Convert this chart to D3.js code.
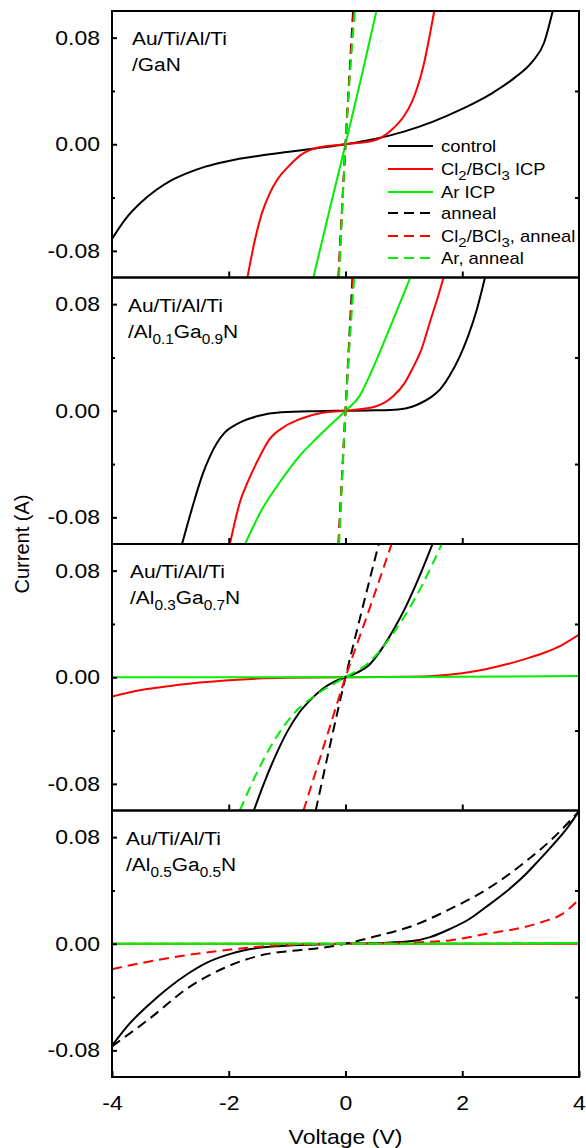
<!DOCTYPE html>
<html>
<head>
<meta charset="utf-8">
<script src="https://cdn.jsdelivr.net/npm/d3@7"></script>
<style>
  html, body { margin: 0; padding: 0; background: #fff; }
  svg { display: block; }
  text { font-family: "Liberation Sans", Arial, Helvetica, sans-serif; fill: #000; }
</style>
</head>
<body>
<svg id="chart" width="586" height="1148"></svg>
<script>
// ---------------- DATA ----------------
const xTicks = [-4, -2, 0, 2, 4];
const xInnerTicks = [-2, 0, 2];
const yTicks = [-0.08, 0.00, 0.08];
const yMinorTicks = [-0.04, 0.04];
const seriesNames = ["control", "Cl2/BCl3 ICP", "Ar ICP", "anneal", "Cl2/BCl3, anneal", "Ar, anneal"];
const seriesColors = ["#000000", "#ff0000", "#00ee00", "#000000", "#ff0000", "#00ee00"];
const seriesDashed = [false, false, false, true, true, true];

// panel substrate labels: [text, subscript, text, subscript, text]
const panelSubstrates = [
  ["GaN"],
  ["Al", "0.1", "Ga", "0.9", "N"],
  ["Al", "0.3", "Ga", "0.7", "N"],
  ["Al", "0.5", "Ga", "0.5", "N"]
];

// Panel 1: GaN  (voltage V, current A)
const gan_control = [[-4,-0.071],[-3.75,-0.055],[-3.5,-0.0435],[-3.25,-0.0345],[-3,-0.0275],[-2.7,-0.0215],[-2.4,-0.0168],[-2,-0.0125],[-1.5,-0.0088],[-1,-0.0058],[-0.5,-0.003],[0,0],[0.5,0.004],[1.0,0.0095],[1.5,0.017],[2.0,0.0265],[2.5,0.038],[2.9,0.05],[3.2,0.062],[3.4,0.076],[3.55,0.1]];
const gan_cl = [[-1.68,-0.1],[-1.55,-0.0715],[-1.43,-0.0515],[-1.3,-0.037],[-1.17,-0.0266],[-0.98,-0.0168],[-0.78,-0.0085],[-0.47,-0.0025],[0,0],[0.5,0.003],[0.82,0.012],[1.0,0.021],[1.14,0.032],[1.33,0.058],[1.52,0.1]];
const gan_ar = [[-0.55,-0.1],[-0.3,-0.054],[0,0],[0.28,0.052],[0.53,0.1]];
const gan_anneal = [[-0.12,-0.1],[0,0],[0.13,0.1]];
const gan_cl_anneal = [[-0.12,-0.1],[0,0],[0.14,0.1]];
const gan_ar_anneal = [[-0.11,-0.1],[0,0],[0.16,0.1]];

// Panel 2: Al0.1Ga0.9N
const al1_control = [[-2.8,-0.1],[-2.58,-0.066],[-2.45,-0.048],[-2.32,-0.034],[-2.2,-0.024],[-2.07,-0.0164],[-1.9,-0.011],[-1.75,-0.0076],[-1.5,-0.004],[-1.1,-0.0012],[-0.5,-0.0003],[0,0],[0.5,0.0003],[0.9,0.001],[1.14,0.003],[1.3,0.006],[1.46,0.01],[1.62,0.016],[1.78,0.026],[1.95,0.04],[2.1,0.056],[2.25,0.076],[2.39,0.1]];
const al1_cl = [[-1.98,-0.1],[-1.81,-0.0688],[-1.68,-0.054],[-1.5,-0.037],[-1.3,-0.0213],[-1.05,-0.012],[-0.79,-0.0064],[-0.4,-0.0015],[0,0],[0.5,0.003],[0.82,0.011],[1.0,0.02],[1.14,0.031],[1.3,0.046],[1.46,0.0685],[1.58,0.085],[1.68,0.1]];
const al1_ar = [[-1.72,-0.1],[-1.43,-0.074],[-1.1,-0.052],[-0.79,-0.034],[-0.55,-0.023],[-0.34,-0.014],[0,0],[0.24,0.011],[0.45,0.03],[0.63,0.0485],[0.85,0.072],[1.11,0.1]];
const al1_anneal = [[-0.12,-0.1],[0,0],[0.12,0.1]];
const al1_cl_anneal = [[-0.12,-0.1],[0,0],[0.13,0.1]];
const al1_ar_anneal = [[-0.11,-0.1],[0,0],[0.15,0.1]];

// Panel 3: Al0.3Ga0.7N
const al3_control = [[-1.57,-0.1],[-1.4,-0.08],[-1.2,-0.059],[-1.0,-0.041],[-0.8,-0.027],[-0.6,-0.017],[-0.4,-0.009],[-0.2,-0.0035],[0,0],[0.2,0.0035],[0.4,0.009],[0.6,0.02],[0.8,0.034],[1.0,0.05],[1.25,0.074],[1.49,0.1]];
const al3_cl = [[-4,-0.0144],[-3.5,-0.0095],[-3,-0.0065],[-2.5,-0.004],[-2,-0.0022],[-1.5,-0.001],[-1,-0.0004],[0,0],[1,0.0004],[1.5,0.001],[2,0.003],[2.4,0.006],[2.74,0.0095],[3.1,0.014],[3.38,0.018],[3.7,0.024],[4,0.032]];
const al3_ar = [[-4,0],[0,0],[4,0.001]];
const al3_anneal = [[-0.51,-0.1],[-0.25,-0.048],[0,0],[0.28,0.05],[0.57,0.1]];
const al3_cl_anneal = [[-0.72,-0.1],[-0.36,-0.05],[0,0],[0.4,0.05],[0.79,0.1]];
const al3_ar_anneal = [[-1.81,-0.1],[-1.5,-0.07],[-1.2,-0.046],[-0.9,-0.028],[-0.5,-0.013],[0,0],[0.4,0.011],[0.7,0.026],[1.0,0.045],[1.3,0.068],[1.65,0.1]];

// Panel 4: Al0.5Ga0.5N
const al5_control = [[-4,-0.0765],[-3.7,-0.06],[-3.35,-0.045],[-3.03,-0.033],[-2.7,-0.0225],[-2.39,-0.0145],[-2.0,-0.008],[-1.75,-0.005],[-1.1,-0.0016],[-0.5,-0.0005],[0,0],[0.6,0.0006],[1.14,0.002],[1.45,0.005],[1.78,0.0109],[2.1,0.018],[2.42,0.028],[2.75,0.039],[3.06,0.051],[3.3,0.062],[3.55,0.074],[3.8,0.087],[4,0.0995]];
const al5_cl = [[-4,0],[0,0],[4,0]];
const al5_ar = [[-4,0],[0,0],[4,0.0005]];
const al5_anneal = [[-4,-0.077],[-3.35,-0.056],[-2.71,-0.0335],[-2.07,-0.018],[-1.43,-0.0085],[-0.8,-0.0048],[-0.4,-0.003],[0,0],[0.5,0.0054],[1.14,0.0133],[1.78,0.0258],[2.42,0.0408],[3.06,0.0608],[3.5,0.077],[4,0.0995]];
const al5_cl_anneal = [[-4,-0.0191],[-3.5,-0.0145],[-3,-0.0105],[-2.71,-0.0085],[-2,-0.0045],[-1.43,-0.002],[-0.7,-0.0005],[0,0],[0.8,0.0005],[1.3,0.0012],[1.78,0.0025],[2.42,0.0075],[3.06,0.0125],[3.38,0.0165],[3.7,0.022],[4,0.0333]];
const al5_ar_anneal = [[-4,0],[0,0],[4,0.0005]];

const panelSeries = [
  [gan_control, gan_cl, gan_ar, gan_anneal, gan_cl_anneal, gan_ar_anneal],
  [al1_control, al1_cl, al1_ar, al1_anneal, al1_cl_anneal, al1_ar_anneal],
  [al3_control, al3_cl, al3_ar, al3_anneal, al3_cl_anneal, al3_ar_anneal],
  [al5_control, al5_cl, al5_ar, al5_anneal, al5_cl_anneal, al5_ar_anneal]
];

// ---------------- LAYOUT ----------------
const plotLeft = 112, plotRight = 579, plotTop = 11, plotBottom = 1077;
const nPanels = 4;
const panelH = (plotBottom - plotTop) / nPanels;
const labelX = [132, 128, 130, 126];
const textStretch = 1.15;

const svg = d3.select("#chart");
const x = d3.scaleLinear().domain([-4, 4]).range([plotLeft, plotRight]);
const fmtY = d => d.toFixed(2);

// widen glyphs horizontally, as in the reference typesetting
function stretch(sel, k) {
  sel.each(function () {
    const t = d3.select(this);
    const tx = +t.attr("x") || 0, ty = +t.attr("y") || 0;
    t.attr("x", 0).attr("y", 0).attr("transform", `translate(${tx},${ty}) scale(${k},1)`);
  });
}

const defs = svg.append("defs");

panelSeries.forEach((series, p) => {
  const top = plotTop + p * panelH;
  const bottom = top + panelH;
  const y = d3.scaleLinear().domain([-0.1, 0.1]).range([bottom, top]);
  const g = svg.append("g");
  const isLast = p === nPanels - 1;

  defs.append("clipPath").attr("id", "clip" + p)
    .append("rect").attr("x", plotLeft).attr("y", top)
    .attr("width", plotRight - plotLeft).attr("height", panelH);

  // curves
  const line = d3.line().x(d => x(d[0])).y(d => y(d[1])).curve(d3.curveMonotoneX);
  const cg = g.append("g").attr("clip-path", `url(#clip${p})`);
  series.forEach((data, s) => {
    cg.append("path")
      .attr("d", line(data))
      .attr("fill", "none")
      .attr("stroke", seriesColors[s])
      .attr("stroke-width", 2)
      .attr("stroke-dasharray", seriesDashed[s] ? "10,6" : null);
  });

  // left axis (major)
  const ax = g.append("g").attr("transform", `translate(${plotLeft},0)`)
    .call(d3.axisLeft(y).tickValues(yTicks).tickFormat(fmtY).tickSizeInner(-5).tickSizeOuter(0).tickPadding(12));
  ax.select(".domain").remove();
  ax.selectAll("line").attr("stroke-width", 2);
  ax.selectAll("text").style("font-size", "20px").attr("font-family", null).call(stretch, textStretch);

  // left minor
  const axm = g.append("g").attr("transform", `translate(${plotLeft},0)`)
    .call(d3.axisLeft(y).tickValues(yMinorTicks).tickFormat("").tickSizeInner(-3).tickSizeOuter(0));
  axm.select(".domain").remove();
  axm.selectAll("line").attr("stroke-width", 2);

  // right minor
  const axr = g.append("g").attr("transform", `translate(${plotRight},0)`)
    .call(d3.axisRight(y).tickValues(yMinorTicks).tickFormat("").tickSizeInner(-4).tickSizeOuter(0));
  axr.select(".domain").remove();
  axr.selectAll("line").attr("stroke-width", 2);

  // bottom ticks
  const axb = g.append("g").attr("transform", `translate(0,${bottom})`)
    .call(d3.axisBottom(x).tickValues(isLast ? xTicks : xInnerTicks)
      .tickFormat(isLast ? (d => String(d)) : "")
      .tickSizeInner(-6).tickSizeOuter(0).tickPadding(19));
  axb.select(".domain").remove();
  axb.selectAll("line").attr("stroke-width", 2);
  if (isLast) {
    axb.selectAll("text").style("font-size", "20px").attr("font-family", null).call(stretch, textStretch);
  } else {
    axb.selectAll("text").remove();
  }

  // frame
  g.append("rect").attr("x", plotLeft).attr("y", top)
    .attr("width", plotRight - plotLeft).attr("height", panelH)
    .attr("fill", "none").attr("stroke", "#000").attr("stroke-width", 2);

  // panel label
  const lx = labelX[p];
  const t1 = g.append("text").attr("x", lx).attr("y", top + 34).style("font-size", "19px").text("Au/Ti/Al/Ti");
  const t2 = g.append("text").attr("x", lx).attr("y", top + 60).style("font-size", "19px");
  t2.append("tspan").text("/");
  panelSubstrates[p].forEach((part, i) => {
    if (i % 2 === 1) {
      t2.append("tspan").attr("dy", 6).style("font-size", "14px").text(part);
    } else {
      t2.append("tspan").attr("dy", i > 0 ? -6 : 0).text(part);
    }
  });
  stretch(t1, 1.1);
  stretch(t2, 1.1);
});

// legend (panel 1)
const legendRows = [146, 169, 192, 213, 236, 258];
const legend = svg.append("g");
seriesNames.forEach((name, i) => {
  const yy = legendRows[i];
  legend.append("line").attr("x1", 388).attr("x2", 433).attr("y1", yy).attr("y2", yy)
    .attr("stroke", seriesColors[i]).attr("stroke-width", 2)
    .attr("stroke-dasharray", seriesDashed[i] ? "10,6" : null);
  const t = legend.append("text").attr("x", 441).attr("y", yy + 6).style("font-size", "16px");
  const m = name.match(/^Cl2\/BCl3(.*)$/);
  if (m) {
    t.append("tspan").text("Cl");
    t.append("tspan").attr("dy", 5).style("font-size", "13px").text("2");
    t.append("tspan").attr("dy", -5).text("/BCl");
    t.append("tspan").attr("dy", 5).style("font-size", "13px").text("3");
    t.append("tspan").attr("dy", -5).text(m[1]);
  } else {
    t.text(name);
  }
  stretch(t, textStretch);
});

// axis titles
const xt = svg.append("text").attr("x", (plotLeft + plotRight) / 2).attr("y", 1144)
  .attr("text-anchor", "middle").style("font-size", "20px").text("Voltage (V)");
stretch(xt, textStretch);
svg.append("text").attr("transform", `translate(29,${(plotTop + plotBottom) / 2}) rotate(-90)`)
  .attr("text-anchor", "middle").style("font-size", "20px").text("Current (A)");
</script>
</body>
</html>
